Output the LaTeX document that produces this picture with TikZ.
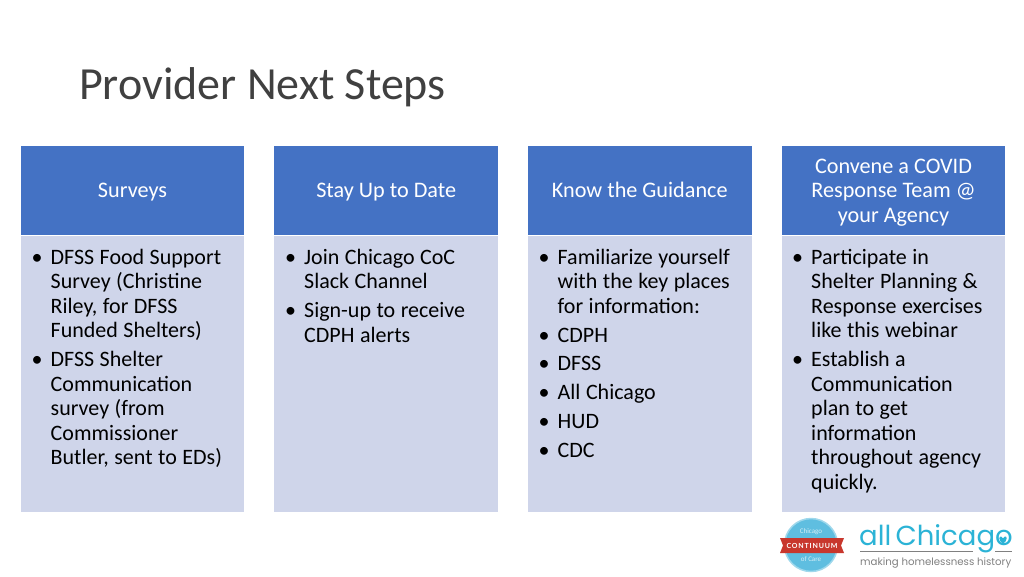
\documentclass[tikz,border=0pt]{standalone}
\usepackage{fontspec}
\setmainfont{Carlito}
\newfontfamily\logofont{Poppins}
\newfontfamily\sealfont[LetterSpace=12]{Lato}
\usetikzlibrary{positioning,shapes.geometric}
\definecolor{headblue}{HTML}{4472C4}
\definecolor{bodyblue}{HTML}{CFD5EA}
\definecolor{titlegray}{HTML}{404040}
\definecolor{logoteal}{HTML}{2BB3D6}
\definecolor{sealteal}{HTML}{5FBEE0}
\definecolor{logored}{HTML}{C8372D}
\definecolor{logogray}{HTML}{808080}
\newcommand{\bulletline}[1]{\par\spaceskip=5.5pt\hangindent=19pt\hangafter=1\noindent\makebox[19pt][l]{\textbullet}#1\par\vspace{4.3pt}}
\tikzset{%
head/.style={fill=headblue,minimum width=223.5pt,minimum height=89.5pt,inner sep=0,text=white,align=center,font=\fontsize{22.2}{24.6}\selectfont},
headone/.style={head,text height=16.5pt,text depth=3.5pt},
panel/.style={fill=bodyblue,minimum width=223.5pt,minimum height=276pt,inner sep=0},
bodytext/.style={text width=198pt,inner sep=0,text=black,font=\fontsize{22}{24.5}\selectfont,align=left},
}
\begin{document}
\begin{tikzpicture}[x=1pt,y=-1pt]
    \useasboundingbox (0,0) rectangle (1024,576);
    \fill[white] (0,0) rectangle (1024,576);

    \node[anchor=base west,inner sep=0,text=titlegray,font=\fontsize{46}{50}\selectfont] (title) at (79,99) {Provider Next Steps};

    % headers
    \node[headone] (heada) at (132.5,190.5) {Surveys};
    \node[headone] (headb) at (386.2,190.5) {Stay Up to Date};
    \node[headone] (headc) at (639.8,190.5) {Know the Guidance};
    \node[headone] (headd) at (893.5,190.5) {};
    \node[inner sep=0,text=white,align=center,font=\fontsize{22.2}{24.6}\selectfont] (headdtext) at (893.5,192.5) {Convene a COVID\\Response Team @\\your Agency};

    % panels
    \node[panel,below=0.5pt of heada] (panela) {};
    \node[panel,below=0.5pt of headb] (panelb) {};
    \node[panel,below=0.5pt of headc] (panelc) {};
    \node[panel,below=0.5pt of headd] (paneld) {};

    \node[bodytext,anchor=north west] (texta) at (31.5,239.5) {%
      \bulletline{DFSS Food Support\newline Survey (Christine\newline Riley, for DFSS\newline Funded Shelters)}
      \bulletline{DFSS Shelter\newline Communication\newline survey (from\newline Commissioner\newline Butler, sent to EDs)}};
    \node[bodytext,anchor=north west] (textb) at (285,239.5) {%
      \bulletline{Join Chicago CoC\newline Slack Channel}
      \bulletline{Sign-up to receive\newline CDPH alerts}};
    \node[bodytext,anchor=north west] (textc) at (538.5,239.5) {%
      \bulletline{Familiarize yourself\newline with the key places\newline for information:}
      \bulletline{CDPH}
      \bulletline{DFSS}
      \bulletline{All Chicago}
      \bulletline{HUD}
      \bulletline{CDC}};
    \node[bodytext,anchor=north west] (textd) at (792,239.5) {%
      \bulletline{Participate in\newline Shelter Planning \&\newline Response exercises\newline like this webinar}
      \bulletline{Establish a\newline Communication\newline plan to get\newline information\newline throughout agency\newline quickly.}};

    % logos
    \node[circle,draw=sealteal!60,line width=1.5pt,fill=sealteal,minimum size=53pt,inner sep=0] (seal) at (811,545) {};
    \node[inner sep=0,text=white!75!sealteal,font=\fontsize{7}{8}\selectfont] (sealtop) at (811,532) {Chicago};
    \node[inner sep=0,text=white!75!sealteal,font=\fontsize{7}{8}\selectfont] (sealbottom) at (811,559) {of Care};
    \fill[logored] (780,538) -- (844,538) -- (841,545.5) -- (844,553) -- (780,553) -- (783,545.5) -- cycle;
    \node[inner sep=0,text=white,font=\sealfont\fontsize{7}{8}\selectfont\bfseries] (sealband) at (812,545.5) {CONTINUUM};

    \node[anchor=base west,inner sep=0,text=logoteal,font=\logofont\fontsize{27.5}{32}\selectfont] (logoname) at (859,545) {all\hspace{-3pt} Chicago};
    \fill[logoteal] (1003,544) .. controls (998,540) and (999,536) .. (1001,536.5) .. controls (1002,537) and (1003,538.5) .. (1003,538.5) .. controls (1003,538.5) and (1004,537) .. (1005,536.5) .. controls (1007,536) and (1008,540) .. (1003,544) -- cycle;
    \coordinate (rulea) at (860,551);
    \coordinate (ruleb) at (973,551);
    \coordinate (rulec) at (995,551);
    \coordinate (ruled) at (1012,551);
    \draw[logogray,line width=0.8pt] (rulea) -- (ruleb) (rulec) -- (ruled);
    \node[anchor=base west,inner sep=0,text=logogray,font=\logofont\fontsize{10.2}{14}\selectfont] (logotag) at (860,565) {making homelessness history};
\end{tikzpicture}
\end{document}
